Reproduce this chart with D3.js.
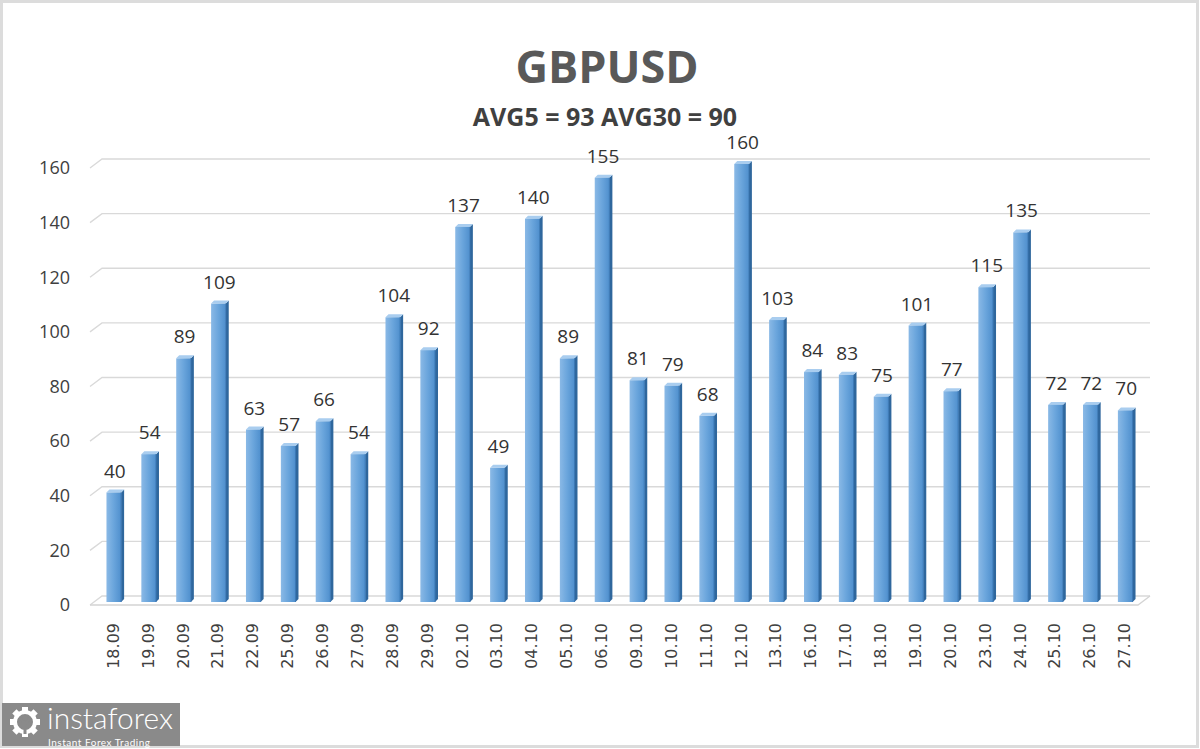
<!DOCTYPE html>
<html><head><meta charset="utf-8">
<script src="https://cdn.jsdelivr.net/npm/d3@7"></script>
<style>body{margin:0;background:#fff}svg{display:block}</style>
</head><body>
<svg id="c" width="1200" height="749"></svg>
<script>
const categories = ["18.09","19.09","20.09","21.09","22.09","25.09","26.09","27.09","28.09","29.09","02.10","03.10","04.10","05.10","06.10","09.10","10.10","11.10","12.10","13.10","16.10","17.10","18.10","19.10","20.10","23.10","24.10","25.10","26.10","27.10"];
const values = [40,54,89,109,63,57,66,54,104,92,137,49,140,89,155,81,79,68,160,103,84,83,75,101,77,115,135,72,72,70];
const yTicks = [0,20,40,60,80,100,120,140,160];
const title = "GBPUSD";
const subtitle = "AVG5 = 93 AVG30 = 90";

const svg = d3.select("#c");
const W = 1200, H = 749;

// frame
svg.append("rect").attr("x",1.5).attr("y",1.5).attr("width",W-4).attr("height",H-4)
  .attr("fill","#fff").attr("stroke","#dcdcdc").attr("stroke-width",3);

const defs = svg.append("defs");
const g1 = defs.append("linearGradient").attr("id","front").attr("x1","0").attr("x2","1").attr("y1","0").attr("y2","0");
g1.append("stop").attr("offset","0").attr("stop-color","#8ab9e6");
g1.append("stop").attr("offset","0.5").attr("stop-color","#6aa5dc");
g1.append("stop").attr("offset","1").attr("stop-color","#4f8fcd");

// scales
const dx = 12, dy = 9;
const yFront = d3.scaleLinear().domain([0,160]).range([605,168]);
const yBar = d3.scaleLinear().domain([0,160]).range([602,164]);
const x = d3.scaleBand().domain(categories).range([96,1143]).paddingInner(0.58).paddingOuter(0.3);

// gridlines (3D style)
const grid = svg.append("g").attr("fill","none").attr("stroke","#d9d9d9").attr("stroke-width",1.3);
yTicks.forEach(t => {
  const yf = yFront(t);
  grid.append("path").attr("d", `M90,${yf} L${90+dx},${yf-dy} L1150,${yf-dy}`);
});
grid.append("path").attr("d", `M90,${yFront(0)} L1138,${yFront(0)} L1150,${yFront(0)-dy}`).attr("stroke","#d4d4d4");

// y tick labels
svg.append("g").selectAll("text").data(yTicks).join("text")
  .attr("x",70).attr("y",d=>yFront(d)).attr("dy","0.35em")
  .attr("text-anchor","end").attr("font-family","Open Sans").attr("font-size",18)
  .attr("fill","#404040").text(d=>d);

// bars
const bw = x.bandwidth(), sd = 3;
const bars = svg.append("g").selectAll("g").data(values).join("g");
bars.each(function(v,i){
  const g = d3.select(this);
  const x0 = x(categories[i]) ;
  const yt = yBar(v), yb = yBar(0);
  g.append("path").attr("d",`M${x0+bw},${yt} L${x0+bw+sd},${yt-sd} L${x0+bw+sd},${yb-sd} L${x0+bw},${yb} Z`).attr("fill","#2f679d");
  g.append("path").attr("d",`M${x0},${yt} L${x0+sd},${yt-sd} L${x0+bw+sd},${yt-sd} L${x0+bw},${yt} Z`).attr("fill","#a9cdef");
  g.append("rect").attr("x",x0).attr("y",yt).attr("width",bw).attr("height",yb-yt).attr("fill","url(#front)");
  g.append("line").attr("x1",x0+bw).attr("x2",x0+bw).attr("y1",yt).attr("y2",yb).attr("stroke","#3b78b5").attr("stroke-width",1);
  g.append("text").attr("x",x0+bw/2+1).attr("y",yt-15).attr("text-anchor","middle")
    .attr("font-family","Open Sans").attr("font-size",19).attr("fill","#333").text(v);
});

// x labels
svg.append("g").selectAll("text").data(categories).join("text")
  .attr("transform",d=>`translate(${x(d)+bw/2+5},623) rotate(-90)`)
  .attr("text-anchor","end").attr("font-family","DejaVu Sans").attr("font-size",16)
  .attr("fill","#404040").text(d=>d);

// titles
svg.append("text").attr("x",607).attr("y",83).attr("text-anchor","middle")
  .attr("font-family","Open Sans").attr("font-weight","bold").attr("font-size",45)
  .attr("fill","#595959").text(title);
svg.append("text").attr("x",605).attr("y",126).attr("text-anchor","middle")
  .attr("font-family","Open Sans").attr("font-weight","bold").attr("font-size",25)
  .attr("fill","#404040").text(subtitle);

// logo
const lg = svg.append("g");
lg.append("rect").attr("x",2).attr("y",703).attr("width",178).attr("height",43).attr("fill","#8a8a8a");
const gear = lg.append("g").attr("transform","translate(25,722)").attr("fill","#fff");
for(let k=0;k<8;k++){
  gear.append("rect").attr("x",-3).attr("y",-15).attr("width",6).attr("height",7).attr("transform",`rotate(${k*45})`);
}
gear.append("circle").attr("r",10).attr("fill","none").attr("stroke","#fff").attr("stroke-width",4);
gear.append("path").attr("d","M-5,-4 L0,2 L5,-4 M0,2 L0,12").attr("stroke","#8a8a8a").attr("stroke-width",3).attr("fill","none");
gear.append("circle").attr("r",3).attr("cy",-4).attr("fill","#8a8a8a");
lg.append("text").attr("x",47).attr("y",729).attr("font-family","Lato").attr("font-weight",300)
  .attr("font-size",30).attr("fill","#fff").attr("textLength",126).attr("lengthAdjust","spacingAndGlyphs").text("instaforex");
lg.append("text").attr("x",48).attr("y",746).attr("font-family","Lato")
  .attr("font-size",10).attr("fill","#fff").attr("textLength",102).text("Instant Forex Trading");
</script>
</body></html>
